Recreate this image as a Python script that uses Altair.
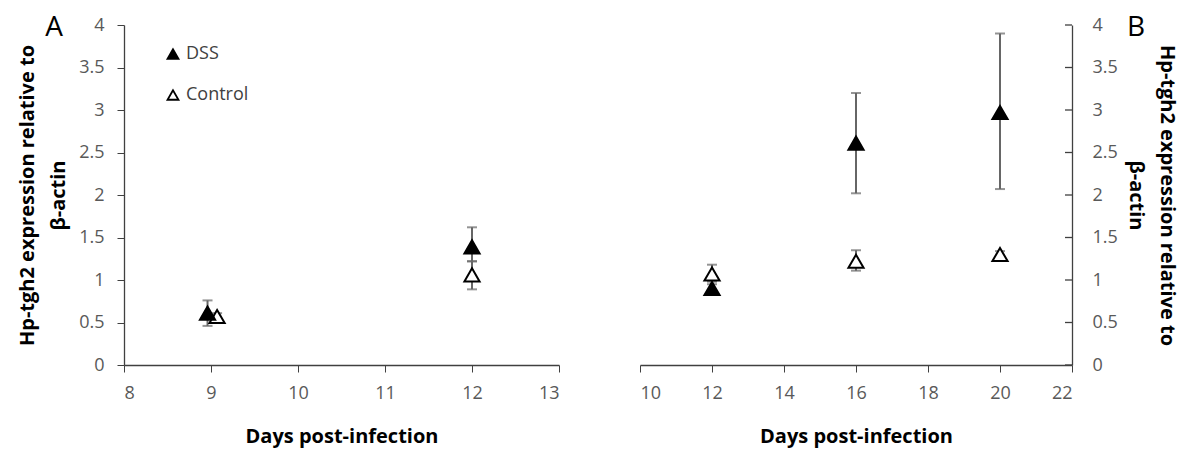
import altair as alt
import pandas as pd

# Panel A
days_A_dss = [8.96, 12.0]
dss_A = [0.61, 1.39]
dss_A_lo = [0.46, 1.22]
dss_A_hi = [0.76, 1.62]
days_A_ctl = [9.07, 12.0]
ctl_A = [0.57, 1.06]
ctl_A_lo = [0.53, 0.89]
ctl_A_hi = [0.61, 1.22]

# Panel B
days_B = [12, 16, 20]
dss_B = [0.9, 2.61, 2.97]
dss_B_lo = [0.85, 2.02, 2.07]
dss_B_hi = [0.95, 3.2, 3.9]
ctl_B = [1.07, 1.22, 1.3]
ctl_B_lo = [0.98, 1.11, 1.26]
ctl_B_hi = [1.18, 1.35, 1.34]

groups = ["DSS", "Control"]
y_ticks = [0, 0.5, 1, 1.5, 2, 2.5, 3, 3.5, 4]
xA_ticks = [8, 9, 10, 11, 12, 13]
xB_ticks = [10, 12, 14, 16, 18, 20, 22]
y_title = ["Hp-tgh2 expression relative to", "β-actin"]
x_title = "Days post-infection"

def frame(days_d, v_d, lo_d, hi_d, days_c, v_c, lo_c, hi_c):
    rows = []
    for d, v, lo, hi in zip(days_d, v_d, lo_d, hi_d):
        rows.append(dict(day=d, value=v, lo=lo, hi=hi, group="DSS"))
    for d, v, lo, hi in zip(days_c, v_c, lo_c, hi_c):
        rows.append(dict(day=d, value=v, lo=lo, hi=hi, group="Control"))
    return pd.DataFrame(rows)

dfA = frame(days_A_dss, dss_A, dss_A_lo, dss_A_hi, days_A_ctl, ctl_A, ctl_A_lo, ctl_A_hi)
dfB = frame(days_B, dss_B, dss_B_lo, dss_B_hi, days_B, ctl_B, ctl_B_lo, ctl_B_hi)
dfTicks = pd.DataFrame({"v": y_ticks})

FONT = "Open Sans"
LABEL_C = "#595959"
AX_C = "#404040"
ERR_C = "#666666"
H = 340

def panel(df, xdom, xticks, width, yorient, show_legend, letter, letter_x, letter_y):
    xscale = alt.Scale(domain=xdom, nice=False, zero=False)
    yscale = alt.Scale(domain=[0, 4], nice=False)
    xaxis = alt.Axis(values=xticks, title=x_title, grid=False, format="d",
                     labelFontSize=18, labelColor=LABEL_C, labelFont=FONT,
                     titleFontSize=20, titleFont=FONT, titleFontWeight="bold",
                     titleColor="black", domainColor=AX_C, tickColor=AX_C,
                     tickSize=7, labelPadding=12, titlePadding=24, domainWidth=1.3)
    if yorient == "left":
        yaxis = alt.Axis(values=y_ticks, title=y_title, grid=False, orient="left",
                         format=".1~f", labelFontSize=18, labelColor=LABEL_C, labelFont=FONT,
                         titleFontSize=20, titleFont=FONT, titleFontWeight="bold",
                         titleColor="black", titleLineHeight=31, domainColor=AX_C,
                         tickColor=AX_C, tickSize=7, labelPadding=13, titlePadding=10,
                         domainWidth=1.3)
    else:
        yaxis = alt.Axis(values=y_ticks, title=y_title, grid=False, orient="right",
                         format=".1~f", labelFontSize=18, labelColor=LABEL_C, labelFont=FONT,
                         titleFontSize=20, titleFont=FONT, titleFontWeight="bold",
                         titleColor="black", titleLineHeight=31, domainColor=AX_C,
                         ticks=False, labelPadding=20, titlePadding=8,
                         domainWidth=1.3)
    base = alt.Chart(df)
    rule = base.mark_rule(color=ERR_C, strokeWidth=2).encode(
        x=alt.X("day:Q", scale=xscale, axis=xaxis),
        y=alt.Y("lo:Q", scale=yscale, axis=yaxis),
        y2="hi:Q",
    )
    cap_lo = base.mark_tick(color=ERR_C, thickness=2, size=10, orient="horizontal").encode(
        x=alt.X("day:Q", scale=xscale), y=alt.Y("lo:Q", scale=yscale))
    cap_hi = base.mark_tick(color=ERR_C, thickness=2, size=10, orient="horizontal").encode(
        x=alt.X("day:Q", scale=xscale), y=alt.Y("hi:Q", scale=yscale))
    if show_legend:
        legend = alt.Legend(title=None, orient="none", legendX=40, legendY=20,
                            labelFontSize=18, labelFont=FONT, labelColor="#404040",
                            symbolType="triangle-up", symbolSize=120, symbolStrokeColor="black",
                            symbolStrokeWidth=1.8, rowPadding=23, labelOffset=4)
    else:
        legend = None
    pts = base.mark_point(shape="triangle-up", size=230, stroke="black", strokeWidth=2,
                          opacity=1, filled=False).encode(
        x=alt.X("day:Q", scale=xscale),
        y=alt.Y("value:Q", scale=yscale),
        fill=alt.Fill("group:N", scale=alt.Scale(domain=groups, range=["black", "white"]),
                      legend=legend),
        order=alt.Order("group:N", sort="ascending"),
    )
    lab = alt.Chart(pd.DataFrame({"t": [letter]})).mark_text(
        fontSize=28, font=FONT, color="black", align="center", baseline="middle"
    ).encode(text="t:N", x=alt.value(letter_x), y=alt.value(letter_y))
    layers = [rule]
    if yorient == "right":
        inner_ticks = alt.Chart(dfTicks).mark_rule(color=AX_C, strokeWidth=1.3).encode(
            y=alt.Y("v:Q", scale=yscale),
            x=alt.value(width - 7), x2=alt.value(width))
        layers.append(inner_ticks)
    layers += [cap_lo, cap_hi, pts, lab]
    return alt.layer(*layers).properties(width=width, height=H)

pA = panel(dfA, [8, 13], xA_ticks, 435, "left", True, "A", -70, 3)
pB = panel(dfB, [10, 22], xB_ticks, 432, "right", False, "B", 496, 3)

chart = alt.hconcat(pA, pB, spacing=81, bounds="flush").resolve_scale(
    fill="independent").configure_view(stroke=None).properties(
    padding={"left": 9, "top": 6, "right": 0, "bottom": 5})

chart.save("out.html", embed_options={"renderer": "svg", "actions": False})
